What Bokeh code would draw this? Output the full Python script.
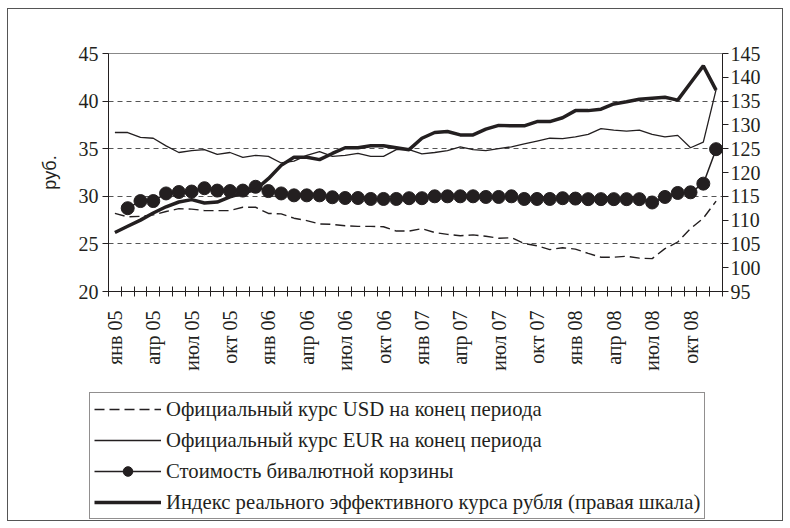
from math import pi
from bokeh.plotting import figure
from bokeh.layouts import column, row
from bokeh.models import (Range1d, LinearAxis, FixedTicker, Legend, LegendItem,
                          ColumnDataSource)
from bokeh.embed import file_html
from bokeh.resources import INLINE

NaN = float("nan")
mnames = ["янв", "фев", "мар", "апр", "май", "июн", "июл", "авг", "сен", "окт", "ноя", "дек"]
years = ["05", "06", "07", "08"]
months = [f"{m} {y}" for y in years for m in mnames]

usd = [28.2, 27.85, 27.9, 28.05, 28.4, 28.7, 28.65, 28.5, 28.5, 28.5, 28.85, 28.85,
       28.2, 28.15, 27.7, 27.45, 27.1, 27.05, 26.9, 26.84, 26.84, 26.8, 26.35, 26.35,
       26.6, 26.2, 26.0, 25.85, 25.95, 25.8, 25.6, 25.65, 25.05, 24.8, 24.4, 24.6,
       24.45, 24.0, 23.6, 23.6, 23.7, 23.5, 23.45, 24.5, 25.2, 26.6, 27.7, 29.5]
eur = [36.7, 36.7, 36.2, 36.1, 35.3, 34.6, 34.8, 34.9, 34.4, 34.6, 34.1, 34.3,
       34.2, 33.5, 33.7, 34.3, 34.7, 34.2, 34.3, 34.5, 34.2, 34.2, 34.9, 34.9,
       34.45, 34.6, 34.8, 35.2, 34.9, 34.8, 35.0, 35.2, 35.5, 35.8, 36.1, 36.05,
       36.25, 36.5, 37.1, 36.95, 36.85, 36.95, 36.5, 36.25, 36.4, 35.1, 35.7, 41.2]
basket = [NaN, 28.75, 29.5, 29.5, 30.3, 30.45, 30.5, 30.85, 30.6, 30.55, 30.6, 31.0,
          30.55, 30.3, 30.1, 30.1, 30.1, 29.9, 29.82, 29.82, 29.72, 29.72, 29.72, 29.8,
          29.8, 30.0, 30.0, 30.0, 30.0, 29.93, 29.93, 30.0, 29.72, 29.72, 29.72, 29.8,
          29.76, 29.7, 29.7, 29.7, 29.7, 29.7, 29.35, 29.93, 30.35, 30.42, 31.33, 34.95]
reer = [107.4, 108.7, 110.0, 111.5, 112.8, 113.8, 114.3, 113.6, 113.8, 114.9, 115.7, 116.4,
        118.7, 121.5, 123.2, 123.2, 122.7, 124.0, 125.2, 125.2, 125.6, 125.6, 125.2, 124.8,
        127.2, 128.4, 128.6, 127.9, 127.9, 129.1, 129.9, 129.8, 129.8, 130.7, 130.7, 131.5,
        133.0, 133.0, 133.3, 134.4, 134.85, 135.4, 135.6, 135.8, 135.2, 138.8, 142.4, 137.3]

left_ticks = [20, 25, 30, 35, 40, 45]
right_ticks = [95, 100, 105, 110, 115, 120, 125, 130, 135, 140, 145]

labels = {
    "usd": "Официальный курс USD на конец периода",
    "eur": "Официальный курс EUR на конец периода",
    "basket": "Стоимость бивалютной корзины",
    "reer": "Индекс реального эффективного курса рубля (правая шкала)",
}

src = ColumnDataSource(dict(x=list(range(len(months))), usd=usd, eur=eur,
                            basket=basket, reer=reer))

INK = "#231f20"
SERIF = "Liberation Serif"

H1 = 375
H2 = 136

p = figure(width=774, height=H1, output_backend="svg", toolbar_location=None,
           x_range=Range1d(-0.5, len(months) - 0.5), y_range=Range1d(20, 45),
           min_border_left=100, min_border_right=60, min_border_top=44,
           min_border_bottom=H1 - 282)
p.extra_y_ranges = {"r": Range1d(95, 145)}
p.outline_line_color = "#888888"
p.outline_line_width = 1
p.xgrid.visible = False
p.ygrid.ticker = FixedTicker(ticks=[25, 30, 35, 40])
p.ygrid.grid_line_color = "#555555"
p.ygrid.grid_line_dash = "5 4"
p.ygrid.grid_line_width = 1

# left axis
ya = p.yaxis[0]
ya.ticker = FixedTicker(ticks=left_ticks)
ya.major_tick_in = 0
ya.major_tick_out = 6
ya.minor_tick_line_color = None
ya.axis_line_color = INK
ya.major_tick_line_color = INK
ya.major_label_text_font = SERIF
ya.major_label_text_font_size = "20px"
ya.major_label_text_color = INK
ya.major_label_standoff = 4
ya.axis_label = "руб."
ya.axis_label_text_font = "Liberation Sans"
ya.axis_label_text_font_style = "normal"
ya.axis_label_text_font_size = "18px"
ya.axis_label_text_color = INK
ya.axis_label_standoff = 16

# right axis
ra = LinearAxis(y_range_name="r", ticker=FixedTicker(ticks=right_ticks))
ra.major_tick_in = 0
ra.major_tick_out = 6
ra.minor_tick_line_color = None
ra.axis_line_color = INK
ra.major_tick_line_color = INK
ra.major_label_text_font = SERIF
ra.major_label_text_font_size = "20px"
ra.major_label_text_color = INK
ra.major_label_standoff = 2
p.add_layout(ra, "right")

# bottom axis
xa = p.xaxis[0]
xa.ticker = FixedTicker(ticks=list(range(0, len(months), 3)),
                        minor_ticks=[i - 0.5 for i in range(len(months) + 1)])
xa.major_label_overrides = {i: months[i] for i in range(0, len(months), 3)}
xa.major_tick_line_color = None
xa.major_tick_in = 0
xa.major_tick_out = 5
xa.minor_tick_in = 5
xa.minor_tick_out = 5
xa.minor_tick_line_color = INK
xa.axis_line_color = INK
xa.major_label_orientation = pi / 2
xa.major_label_text_font = SERIF
xa.major_label_text_font_size = "20px"
xa.major_label_text_color = INK
xa.major_label_standoff = 14

usd_style = dict(line_color=INK, line_width=1.4, line_dash="10 5")
eur_style = dict(line_color=INK, line_width=1.3)
bl_style = dict(line_color=INK, line_width=1.5)
bm_style = dict(size=13, fill_color=INK, line_color=INK)
reer_style = dict(line_color=INK, line_width=3.5)

p.line("x", "usd", source=src, **usd_style)
p.line("x", "eur", source=src, **eur_style)
p.line("x", "basket", source=src, **bl_style)
p.scatter("x", "basket", source=src, **bm_style)
p.line("x", "reer", source=src, y_range_name="r", **reer_style)

# legend panel (same series styles); the sample points lie outside its view
q = figure(width=774, height=H2, output_backend="svg", toolbar_location=None,
           x_range=Range1d(0, 1), y_range=Range1d(0, 1),
           x_axis_type=None, y_axis_type=None, min_border=0)
q.grid.visible = False
q.outline_line_color = None
off = ColumnDataSource(dict(x=[-10.0], y=[-10.0]))
l_usd = q.line("x", "y", source=off, **usd_style)
l_eur = q.line("x", "y", source=off, **eur_style)
l_bl = q.line("x", "y", source=off, **bl_style)
l_bm = q.scatter("x", "y", source=off, **bm_style)
l_reer = q.line("x", "y", source=off, **reer_style)

legend = Legend(items=[
    LegendItem(label=labels["usd"], renderers=[l_usd]),
    LegendItem(label=labels["eur"], renderers=[l_eur]),
    LegendItem(label=labels["basket"], renderers=[l_bl, l_bm]),
    LegendItem(label=labels["reer"], renderers=[l_reer]),
], location=(81, 1))
legend.glyph_width = 67
legend.glyph_height = 24
legend.label_height = 24
legend.label_standoff = 5
legend.spacing = 7
legend.padding = 4
legend.margin = 0
legend.label_text_font = SERIF
legend.label_text_font_size = "20.7px"
legend.label_text_color = INK
legend.border_line_color = INK
legend.border_line_width = 1
legend.background_fill_alpha = 1
q.add_layout(legend)

page = column(p, row(q), spacing=0,
              styles={"margin-left": "7px", "margin-top": "8px",
                      "border": "1px solid #555555"})

open("out.html", "w").write(file_html(page, INLINE))
